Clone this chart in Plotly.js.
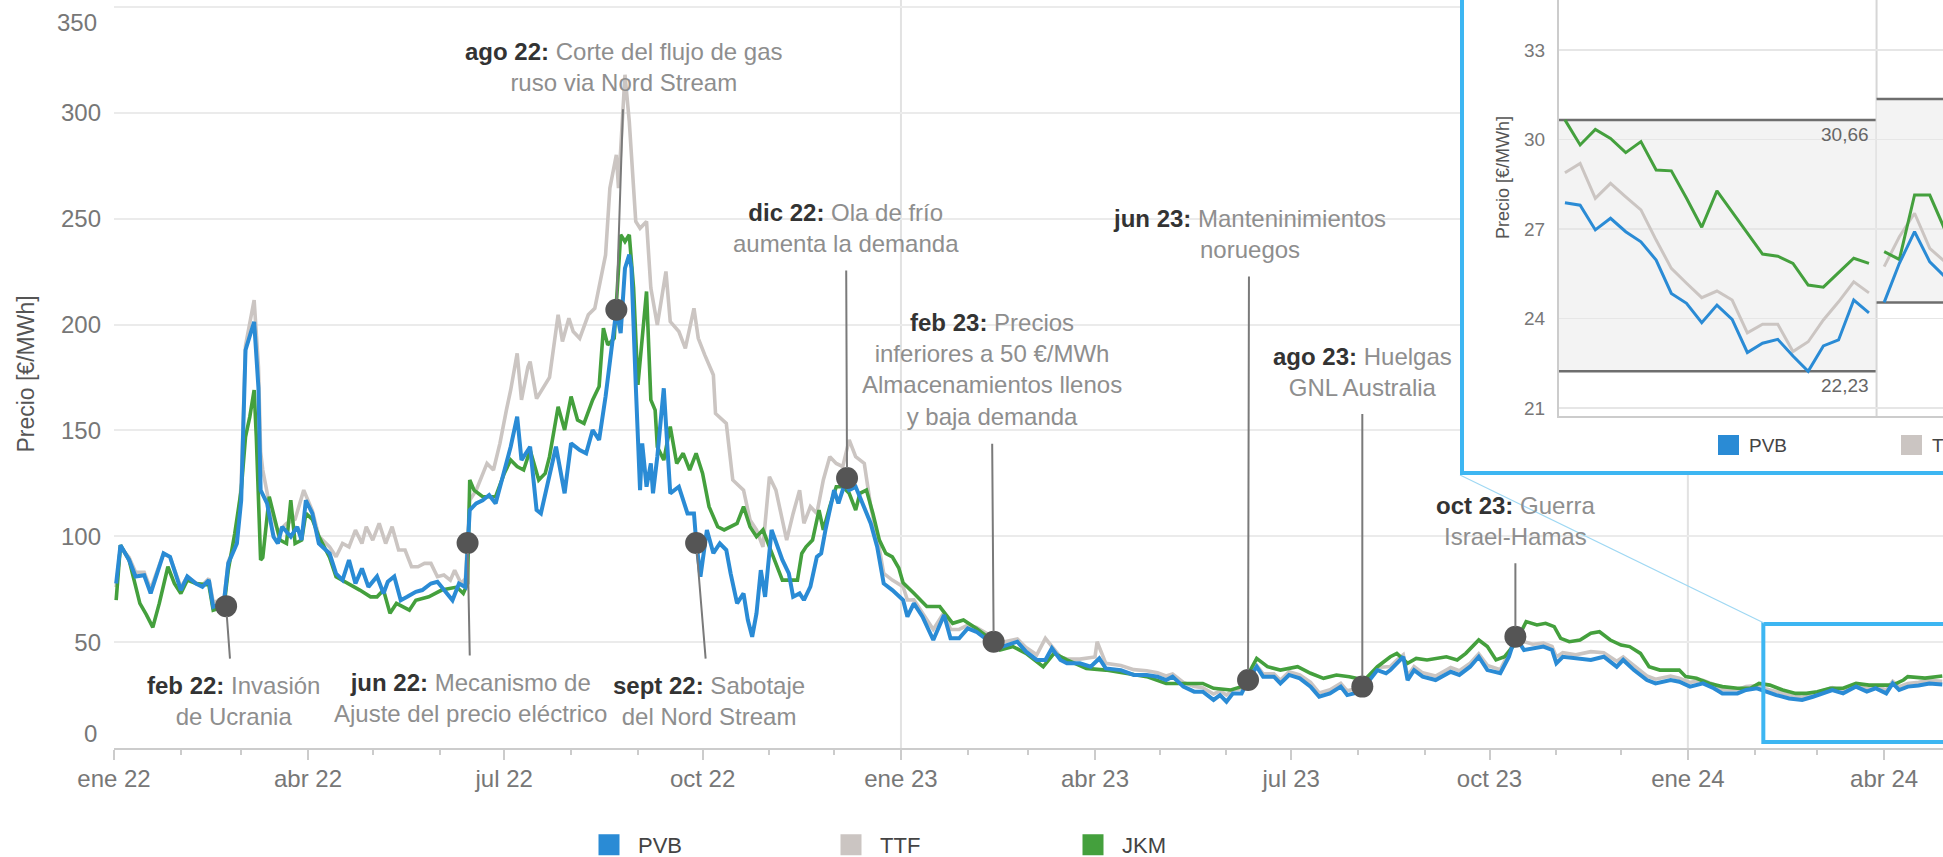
<!DOCTYPE html>
<html>
<head>
<meta charset="utf-8">
<script src="https://cdn.plot.ly/plotly-3.0.1.min.js"></script>
<style>
html,body{margin:0;padding:0;background:#fff;overflow:hidden}
#chart{width:1943px;height:857px}
</style>
</head>
<body>
<div id="chart"></div>
<script>
// ---------------- DATA ----------------
const seriesNames = ['PVB', 'TTF', 'JKM'];

const pvbDates = ['2022-01-02','2022-01-04','2022-01-08','2022-01-11','2022-01-15','2022-01-18','2022-01-24','2022-01-27','2022-02-01','2022-02-04','2022-02-08','2022-02-11','2022-02-14','2022-02-16','2022-02-21','2022-02-23','2022-02-27','2022-03-01','2022-03-03','2022-03-06','2022-03-07','2022-03-09','2022-03-10','2022-03-13','2022-03-16','2022-03-18','2022-03-20','2022-03-24','2022-03-27','2022-03-29','2022-03-31','2022-04-03','2022-04-06','2022-04-11','2022-04-14','2022-04-17','2022-04-20','2022-04-23','2022-04-26','2022-04-29','2022-05-03','2022-05-06','2022-05-08','2022-05-11','2022-05-14','2022-05-17','2022-05-21','2022-05-24','2022-05-28','2022-05-31','2022-06-03','2022-06-07','2022-06-10','2022-06-13','2022-06-15','2022-06-18','2022-06-21','2022-06-24','2022-06-27','2022-06-30','2022-07-04','2022-07-07','2022-07-09','2022-07-13','2022-07-16','2022-07-18','2022-07-22','2022-07-25','2022-07-29','2022-08-01','2022-08-05','2022-08-08','2022-08-11','2022-08-14','2022-08-17','2022-08-21','2022-08-22','2022-08-24','2022-08-26','2022-08-28','2022-08-29','2022-08-31','2022-09-02','2022-09-03','2022-09-05','2022-09-07','2022-09-08','2022-09-10','2022-09-13','2022-09-16','2022-09-20','2022-09-24','2022-09-27','2022-09-28','2022-09-30','2022-10-03','2022-10-06','2022-10-09','2022-10-12','2022-10-14','2022-10-17','2022-10-20','2022-10-22','2022-10-24','2022-10-26','2022-10-28','2022-10-30','2022-11-02','2022-11-05','2022-11-07','2022-11-10','2022-11-12','2022-11-15','2022-11-17','2022-11-20','2022-11-23','2022-11-25','2022-11-27','2022-12-01','2022-12-03','2022-12-06','2022-12-08','2022-12-11','2022-12-14','2022-12-18','2022-12-21','2022-12-24','2022-12-28','2023-01-02','2023-01-04','2023-01-07','2023-01-11','2023-01-16','2023-01-21','2023-01-24','2023-01-28','2023-02-01','2023-02-05','2023-02-10','2023-02-13','2023-02-17','2023-02-24','2023-02-28','2023-03-05','2023-03-09','2023-03-12','2023-03-16','2023-03-19','2023-03-25','2023-03-30','2023-04-03','2023-04-06','2023-04-13','2023-04-19','2023-04-25','2023-04-30','2023-05-04','2023-05-07','2023-05-12','2023-05-17','2023-05-21','2023-05-26','2023-05-29','2023-06-01','2023-06-04','2023-06-08','2023-06-11','2023-06-15','2023-06-18','2023-06-23','2023-06-26','2023-06-30','2023-07-05','2023-07-10','2023-07-14','2023-07-19','2023-07-24','2023-07-27','2023-07-31','2023-08-04','2023-08-10','2023-08-14','2023-08-16','2023-08-19','2023-08-22','2023-08-24','2023-08-27','2023-08-31','2023-09-06','2023-09-13','2023-09-17','2023-09-22','2023-09-26','2023-09-30','2023-10-06','2023-10-10','2023-10-13','2023-10-17','2023-10-21','2023-10-26','2023-10-30','2023-11-01','2023-11-04','2023-11-10','2023-11-17','2023-11-23','2023-11-29','2023-12-02','2023-12-07','2023-12-13','2023-12-17','2023-12-24','2023-12-28','2024-01-02','2024-01-08','2024-01-13','2024-01-17','2024-01-24','2024-01-28','2024-02-02','2024-02-06','2024-02-11','2024-02-17','2024-02-23','2024-02-28','2024-03-04','2024-03-08','2024-03-13','2024-03-19','2024-03-24','2024-03-28','2024-04-02','2024-04-05','2024-04-08','2024-04-12','2024-04-17','2024-04-22','2024-04-28'];
const pvbValues = [77.7,95.8,88.8,81,81.6,73,91.9,90.3,74.6,81,77.7,76.1,79.3,66.7,69,87.2,96.6,117,188,197.4,201.3,170,121.8,115.5,99.8,96.6,104.5,99.8,104.5,98.2,117,110.8,96.6,91.9,82.4,79.3,88.8,77.7,84.8,76.1,81,73,78.5,81,69.8,71.4,73.8,74.6,77.7,78.5,74.6,69.8,77.7,76,112.4,115.5,117,119.5,115.5,126.6,142.3,156.5,136,142.3,112.4,110.8,128.1,142.3,120.3,143.9,140.7,139.2,150.2,145.5,166,201.4,206.9,196,226.6,233,226.6,171.5,121.8,143.9,123.4,134.4,120.3,137.6,169.9,120.3,123.4,110.8,110.8,98,80.9,103,92,96.6,93.5,82.5,68.3,73,60.4,52.5,63.6,84,71.4,103,95,88.8,82.5,71.4,73,69.9,76.2,90.3,91.9,103,121.8,115.5,125,121.8,123.4,115.5,106.1,95,77.7,74.6,69.9,62,68.3,62,51,62.8,51.8,51.8,56.5,54.9,51,50.2,47.9,50.2,45.5,41.6,41.6,47.1,41.6,40,40,38.4,42.3,37.6,36.8,34.5,34.5,33.7,32.1,33.7,29,26.6,26.6,22.7,25,21.9,25.8,25.8,32.1,38.4,33.7,33.7,30.5,34.5,32.9,29,24.2,25.8,29,25,26,29,36.8,35.3,36.8,40,43.1,32.1,36.8,33.7,32.1,36,34.5,38.4,43.1,36.8,35.3,43.1,52.6,46.3,47.1,47.9,46.3,40,43.1,42.3,41.6,43.1,38.4,41.6,36.8,32.1,30.5,32.1,31.3,29,30.5,28.2,25.8,25.8,27.4,28.2,26.6,25,23.4,22.7,24.2,25.8,27.4,25.8,29,26.6,28.2,25.8,30.5,27.4,29,29.5,30.5,30];

const ttfDates = ['2022-01-02','2022-01-04','2022-01-08','2022-01-11','2022-01-15','2022-01-18','2022-01-24','2022-01-27','2022-02-01','2022-02-04','2022-02-08','2022-02-11','2022-02-14','2022-02-16','2022-02-21','2022-02-23','2022-02-27','2022-03-01','2022-03-03','2022-03-06','2022-03-07','2022-03-09','2022-03-10','2022-03-11','2022-03-14','2022-03-18','2022-03-22','2022-03-26','2022-03-30','2022-04-03','2022-04-06','2022-04-11','2022-04-14','2022-04-17','2022-04-20','2022-04-23','2022-04-26','2022-04-28','2022-05-01','2022-05-04','2022-05-07','2022-05-10','2022-05-13','2022-05-16','2022-05-19','2022-05-22','2022-05-25','2022-05-28','2022-05-31','2022-06-03','2022-06-06','2022-06-08','2022-06-11','2022-06-13','2022-06-15','2022-06-18','2022-06-23','2022-06-26','2022-06-29','2022-07-02','2022-07-04','2022-07-07','2022-07-09','2022-07-12','2022-07-13','2022-07-16','2022-07-19','2022-07-22','2022-07-26','2022-07-28','2022-07-31','2022-08-02','2022-08-05','2022-08-09','2022-08-12','2022-08-15','2022-08-17','2022-08-19','2022-08-22','2022-08-23','2022-08-25','2022-08-26','2022-08-28','2022-08-30','2022-08-31','2022-09-02','2022-09-05','2022-09-07','2022-09-10','2022-09-14','2022-09-16','2022-09-20','2022-09-23','2022-09-27','2022-09-29','2022-10-02','2022-10-06','2022-10-07','2022-10-12','2022-10-15','2022-10-20','2022-10-23','2022-10-26','2022-10-29','2022-11-01','2022-11-04','2022-11-07','2022-11-09','2022-11-12','2022-11-15','2022-11-17','2022-11-20','2022-11-23','2022-11-26','2022-11-29','2022-12-02','2022-12-05','2022-12-08','2022-12-11','2022-12-15','2022-12-18','2022-12-21','2022-12-24','2022-12-28','2023-01-02','2023-01-04','2023-01-07','2023-01-11','2023-01-16','2023-01-21','2023-01-24','2023-01-28','2023-02-01','2023-02-05','2023-02-10','2023-02-13','2023-02-17','2023-02-24','2023-02-28','2023-03-05','2023-03-09','2023-03-12','2023-03-16','2023-03-19','2023-03-25','2023-04-01','2023-04-02','2023-04-06','2023-04-13','2023-04-19','2023-04-25','2023-04-30','2023-05-04','2023-05-07','2023-05-12','2023-05-17','2023-05-21','2023-05-26','2023-05-29','2023-06-01','2023-06-04','2023-06-08','2023-06-11','2023-06-15','2023-06-18','2023-06-23','2023-06-26','2023-06-30','2023-07-05','2023-07-10','2023-07-14','2023-07-19','2023-07-24','2023-07-27','2023-07-31','2023-08-04','2023-08-10','2023-08-16','2023-08-19','2023-08-22','2023-08-24','2023-08-27','2023-08-31','2023-09-06','2023-09-13','2023-09-17','2023-09-22','2023-09-26','2023-09-30','2023-10-06','2023-10-10','2023-10-13','2023-10-17','2023-10-21','2023-10-26','2023-10-30','2023-11-01','2023-11-04','2023-11-10','2023-11-17','2023-11-23','2023-11-29','2023-12-02','2023-12-07','2023-12-13','2023-12-17','2023-12-24','2023-12-28','2024-01-02','2024-01-08','2024-01-13','2024-01-17','2024-01-24','2024-01-28','2024-02-02','2024-02-06','2024-02-11','2024-02-17','2024-02-23','2024-02-28','2024-03-04','2024-03-08','2024-03-13','2024-03-19','2024-03-24','2024-03-28','2024-04-02','2024-04-05','2024-04-08','2024-04-12','2024-04-17','2024-04-22','2024-04-28'];
const ttfValues = [76,95,90,83,83,75,92,90,76,81,78,77,80,69,70,88,98,125,190,205,211.6,180,140,131.3,115.5,102,106,108,121.8,112,100,95,90.3,96.6,95,102.9,96.6,104.5,98.2,106.1,96.6,104.5,93.5,93.5,85.6,85.6,87.2,87.2,80.9,81.7,79.3,84,77.7,80,117,121.8,134.4,131.3,143.9,159.6,169.1,186.4,164.4,180.1,182.5,165,170,175,204.6,192,203,196.7,193.5,204.6,207.7,223.5,232.9,264.4,280.2,264.4,303.8,318,295.9,260,248.7,245.5,248.7,217.2,199.8,225.1,201.4,196.7,188.8,207.7,193.5,185.7,176.2,158,153.3,126.6,121.8,107.7,103,95,128.1,121.8,107.7,98.2,110.8,121.8,106.1,114,110.8,126.6,137.6,134.4,132.9,145.5,137.6,134.4,114,99.8,82.5,79.3,76.2,69.9,70,64,56,64,56,56,58,57,54,51,50,51.5,47.5,44,51.8,48,43,42,42,43,50.2,40,39,37,36.5,35.5,34,35,31,29,28.5,25.5,27,25,27.5,28,33,39,35,35,32,36,34.5,31,26,27.5,30.5,27,28,30.5,38,38.5,41.5,44,34,38.5,35.5,34,38,36.5,40,44.5,39,37,45,52,50.2,49,49.5,48,43,45,44,45.5,45,41,43,39,34,32.5,34,33,31,32,30,27.5,27.5,29,29.5,28,26.5,25,24,25.5,27,28.5,27,30,28,29,27.5,31.5,29,30.5,31,32,31.5];

const jkmDates = ['2022-01-02','2022-01-04','2022-01-08','2022-01-13','2022-01-16','2022-01-19','2022-01-22','2022-01-26','2022-01-29','2022-02-01','2022-02-04','2022-02-08','2022-02-14','2022-02-16','2022-02-21','2022-02-23','2022-02-26','2022-03-01','2022-03-03','2022-03-05','2022-03-07','2022-03-08','2022-03-10','2022-03-11','2022-03-14','2022-03-16','2022-03-19','2022-03-22','2022-03-24','2022-03-26','2022-03-29','2022-03-31','2022-04-03','2022-04-06','2022-04-11','2022-04-14','2022-04-20','2022-04-25','2022-04-30','2022-05-03','2022-05-06','2022-05-09','2022-05-12','2022-05-15','2022-05-18','2022-05-21','2022-05-27','2022-06-02','2022-06-09','2022-06-12','2022-06-14','2022-06-15','2022-06-17','2022-06-21','2022-06-27','2022-07-01','2022-07-04','2022-07-07','2022-07-10','2022-07-13','2022-07-17','2022-07-20','2022-07-22','2022-07-26','2022-07-29','2022-08-01','2022-08-04','2022-08-07','2022-08-11','2022-08-14','2022-08-16','2022-08-18','2022-08-21','2022-08-24','2022-08-26','2022-08-28','2022-08-30','2022-09-01','2022-09-05','2022-09-07','2022-09-09','2022-09-10','2022-09-13','2022-09-16','2022-09-19','2022-09-22','2022-09-25','2022-09-28','2022-10-01','2022-10-04','2022-10-08','2022-10-11','2022-10-14','2022-10-17','2022-10-20','2022-10-23','2022-10-26','2022-10-29','2022-11-01','2022-11-04','2022-11-07','2022-11-10','2022-11-14','2022-11-16','2022-11-18','2022-11-21','2022-11-24','2022-11-26','2022-11-29','2022-12-02','2022-12-05','2022-12-08','2022-12-11','2022-12-13','2022-12-16','2022-12-19','2022-12-22','2022-12-25','2022-12-28','2022-12-31','2023-01-02','2023-01-07','2023-01-13','2023-01-19','2023-01-25','2023-01-30','2023-02-05','2023-02-10','2023-02-16','2023-02-22','2023-02-28','2023-03-08','2023-03-13','2023-03-19','2023-03-28','2023-04-06','2023-04-16','2023-04-25','2023-05-04','2023-05-14','2023-05-21','2023-05-26','2023-06-03','2023-06-08','2023-06-15','2023-06-20','2023-06-26','2023-07-04','2023-07-10','2023-07-16','2023-07-22','2023-07-28','2023-08-04','2023-08-10','2023-08-16','2023-08-19','2023-08-24','2023-08-28','2023-09-02','2023-09-11','2023-09-16','2023-09-20','2023-09-26','2023-09-30','2023-10-04','2023-10-08','2023-10-13','2023-10-18','2023-10-23','2023-10-27','2023-10-31','2023-11-03','2023-11-07','2023-11-12','2023-11-17','2023-11-21','2023-11-26','2023-12-01','2023-12-05','2023-12-10','2023-12-14','2023-12-19','2023-12-28','2023-12-31','2024-01-05','2024-01-11','2024-01-17','2024-01-24','2024-01-30','2024-02-03','2024-02-08','2024-02-14','2024-02-20','2024-02-25','2024-03-01','2024-03-07','2024-03-13','2024-03-19','2024-03-25','2024-04-01','2024-04-05','2024-04-10','2024-04-12','2024-04-20','2024-04-28'];
const jkmValues = [69.8,95.8,88.8,68.3,63,57,68.3,85.6,77.7,73,79.3,77.7,77,65.1,66.7,84,101.3,121.8,147,156.5,169.1,147,88.8,90,118.7,110.8,98.2,96.6,117,96.6,98.2,110.8,108,100,90,80.9,77.7,74.6,71.4,71.4,74.6,63.6,68.3,66.7,65.1,69.8,71.4,74.6,76,73,77.7,126.6,121.8,118.7,118.7,129.7,136,132.9,131.3,140.7,126.6,129.7,137.6,161.2,150.2,166,154.9,153.3,164.4,170.7,198.3,190.4,193.5,242.4,239.2,242.4,217.2,171.5,215.6,164.4,159.6,142.3,136,151.8,134.4,139.2,131.3,139.2,129.7,114,104.5,103,104.5,106.1,114,104.5,99.8,103,95,87.2,79.3,79.3,79.3,91.9,95,98.2,112.4,103,114,123.4,123.4,120.3,112.4,120.3,121.8,110.8,98.2,91.9,90.3,85,78,73.1,66.8,66.8,58.9,60.5,56.5,52.6,46.3,47.9,44.7,38.4,44.7,41.6,37.6,36.8,35.3,33.7,30.5,30.5,30.5,28.2,27.4,29,42.3,38.4,36.8,38.4,35.3,32.9,34.5,33.7,32.1,38.4,43.1,44.7,40,42.3,41.6,43.1,41.6,44.7,51,47.9,41.6,43.1,49.4,59.7,58.1,58.9,57.3,51.8,50.2,51,54.2,54.9,51,48.6,47.9,44.7,38.4,36.8,36.8,33.7,32.9,30.5,29,28.2,28.2,30.5,29.7,27.4,25.8,25.8,26.6,28.2,28.2,30.5,29.7,29.7,29.7,32.1,33.7,33,34];

// Eventos anotados
const eventDates = ['2022-02-22','2022-06-14','2022-08-22','2022-09-28','2022-12-07','2023-02-13','2023-06-11','2023-08-03','2023-10-13'];
const eventValues = [67, 96.8, 207, 96.8, 127.5, 50.2, 32.1, 29, 52.6];
const eventTags = ['feb 22:','jun 22:','ago 22:','sept 22:','dic 22:','feb 23:','jun 23:','ago 23:','oct 23:'];
const eventTexts = [
  'Invasión<br>de Ucrania',
  'Mecanismo de<br>Ajuste del precio eléctrico',
  'Corte del flujo de gas<br>ruso via Nord Stream',
  'Sabotaje<br>del Nord Stream',
  'Ola de frío<br>aumenta la demanda',
  'Precios<br>inferiores a 50 €/MWh<br>Almacenamientos llenos<br>y baja demanda',
  'Manteninimientos<br>noruegos',
  'Huelgas<br>GNL Australia',
  'Guerra<br>Israel-Hamas'
];

// Ejes
const xTickDates = ['2022-01-01','2022-04-01','2022-07-01','2022-10-01','2023-01-01','2023-04-01','2023-07-01','2023-10-01','2024-01-01','2024-04-01'];
const xTickLabels = ['ene 22','abr 22','jul 22','oct 22','ene 23','abr 23','jul 23','oct 23','ene 24','abr 24'];
const yTickValues = [0, 50, 100, 150, 200, 250, 300, 350];
const yearStarts = ['2023-01-01', '2024-01-01'];

// Detalle (zoom) feb-mar 2024, días hábiles
const insetDates = ['2024-02-01','2024-02-02','2024-02-05','2024-02-06','2024-02-07','2024-02-08','2024-02-09','2024-02-12','2024-02-13','2024-02-14','2024-02-15','2024-02-16','2024-02-19','2024-02-20','2024-02-21','2024-02-22','2024-02-23','2024-02-26','2024-02-27','2024-02-28','2024-02-29','2024-03-01','2024-03-04','2024-03-05','2024-03-06','2024-03-07'];
const insetPvb = [27.88,27.80,26.97,27.36,26.91,26.57,25.96,24.84,24.51,23.86,24.45,23.97,22.86,23.17,23.30,22.74,22.23,23.08,23.28,24.62,24.19,24.54,25.85,26.91,25.90,25.40];
const insetTtf = [28.89,29.20,28.03,28.53,28.08,27.64,26.63,25.68,25.18,24.70,24.92,24.62,23.52,23.81,23.81,22.89,23.22,23.95,24.56,25.23,24.86,25.74,26.74,27.53,26.35,25.90];
const insetJkm = [30.66,29.82,30.34,30.04,29.56,29.93,28.98,28.95,28.03,27.06,28.28,27.58,26.85,26.16,26.09,25.85,25.12,25.05,25.54,26.02,25.85,26.24,25.98,28.14,28.14,26.97];
const bandMonths = ['2024-02', '2024-03'];
const bandMax = [30.66, 31.36];
const bandMin = [22.23, 24.54];
const insetTickValues = [21, 24, 27, 30, 33];

// ---------------- STYLE ----------------
const COLORS = {PVB: '#2a8bd5', TTF: '#cbc5c2', JKM: '#44a03d'};
const FONT = 'Liberation Sans, Arial, sans-serif';
const W = 1943, H = 857;
const M = {l: 114, r: 0, t: 0, b: 109};
const PW = W - M.l - M.r, PH = H - M.t - M.b;
const px2x = px => (px - M.l) / PW;         // pixel -> paper x
const px2y = py => (H - M.b - py) / PH;      // pixel -> paper y
const BORDER = '#3db6f2';

const mainRange = ['2022-01-01', '2024-04-28 08:00'];
const yRange = [0, 353.3];
const insetYRange = [20.73, 34.68];
const insetXRange = [-0.39, 24.87];
const labelOffsets = [[7,95],[3,155],[8,-243],[13,158],[-1,-250],[-2,-272],[1,-446],[0,-315],[0,-116]];

// ---------------- TRACES ----------------
const traces = [];
const mainSeries = {PVB: [pvbDates, pvbValues], TTF: [ttfDates, ttfValues], JKM: [jkmDates, jkmValues]};
['TTF', 'JKM', 'PVB'].forEach(n => {
  traces.push({
    type: 'scatter', mode: 'lines', name: n, x: mainSeries[n][0], y: mainSeries[n][1],
    line: {color: COLORS[n], width: n === 'PVB' ? 4 : 3.6, shape: 'linear'},
    showlegend: false, hoverinfo: 'skip', xaxis: 'x', yaxis: 'y'
  });
});
traces.push({
  type: 'scatter', mode: 'markers', x: eventDates, y: eventValues,
  marker: {size: 22, color: '#555555'}, showlegend: false, hoverinfo: 'skip'
});
seriesNames.forEach(n => {
  traces.push({
    type: 'scatter', mode: 'markers', name: n, x: [null], y: [null],
    marker: {symbol: 'square', size: 16, color: COLORS[n], line: {color: COLORS[n], width: 5}},
    showlegend: true, hoverinfo: 'skip'
  });
});
// helper on the background subplot of the detail box (keeps layer order)
traces.push({type: 'scatter', mode: 'markers', x: [-1], y: [-1], xaxis: 'x2', yaxis: 'y2',
  marker: {opacity: 0}, showlegend: false, hoverinfo: 'skip'});

const insetSeries = {TTF: insetTtf, JKM: insetJkm, PVB: insetPvb};
bandMonths.forEach(m => {
  const idx = insetDates.map((d, i) => d.startsWith(m) ? i : -1).filter(i => i >= 0);
  ['TTF', 'JKM', 'PVB'].forEach(n => {
    traces.push({
      type: 'scatter', mode: 'lines', x: idx.map(i => insetDates[i]), y: idx.map(i => insetSeries[n][i]),
      line: {color: COLORS[n], width: 3}, showlegend: false, hoverinfo: 'skip', xaxis: 'x3', yaxis: 'y3'
    });
  });
});

// ---------------- SHAPES ----------------
const shapes = [];
yearStarts.forEach(d => shapes.push({type: 'line', xref: 'x', yref: 'paper', x0: d, x1: d, y0: 0, y1: 1,
  line: {color: '#e2e2e2', width: 2}, layer: 'below'}));
// white background of the detail box (drawn on its own subplot, above the main chart)
shapes.push({type: 'rect', xref: 'x2', yref: 'y2', x0: 0, x1: 1, y0: 0, y1: 1, fillcolor: '#ffffff', line: {width: 0}, layer: 'below'});
// monthly bands in the detail
bandMonths.forEach((m, k) => {
  const idx = insetDates.map((d, i) => d.startsWith(m) ? i : -1).filter(i => i >= 0);
  const x0 = idx[0] - 0.5, x1 = idx[idx.length - 1] + 0.5;
  shapes.push({type: 'rect', xref: 'x3', yref: 'y3', x0: x0, x1: x1, y0: bandMin[k], y1: bandMax[k],
    fillcolor: '#f3f3f3', line: {width: 0}, layer: 'below'});
  [bandMax[k], bandMin[k]].forEach(v => shapes.push({type: 'line', xref: 'x3', yref: 'y3', x0: x0, x1: x1, y0: v, y1: v,
    line: {color: '#6e6e6e', width: 2.5}, layer: 'below'}));
  if (k < bandMonths.length - 1) {
    shapes.push({type: 'line', xref: 'x3', yref: 'y3', x0: x1, x1: x1, y0: insetYRange[0], y1: insetYRange[1],
      line: {color: '#d6d6d6', width: 2}, layer: 'below'});
  }
});
// zoom window on the main chart
shapes.push({type: 'rect', xref: 'x', yref: 'y', x0: '2024-02-05', x1: '2024-07-01', y0: 2.8, y1: 58.6,
  line: {color: BORDER, width: 4}, fillcolor: 'rgba(0,0,0,0)', layer: 'above'});
// connector
shapes.push({type: 'line', xref: 'paper', yref: 'paper', x0: px2x(1460), y0: px2y(475), x1: px2x(1764), y1: px2y(623),
  line: {color: '#9fd8f3', width: 1.2}, layer: 'above'});
// border of the detail box
shapes.push({type: 'rect', xref: 'paper', yref: 'paper', x0: px2x(1462), y0: px2y(473), x1: 1.03, y1: 1.03,
  line: {color: BORDER, width: 4}, fillcolor: 'rgba(0,0,0,0)', layer: 'above'});
// legend keys of the detail box
[['PVB', 1718], ['TTF', 1901]].forEach(([n, px]) => shapes.push({type: 'rect', xref: 'paper', yref: 'paper',
  x0: px2x(px), x1: px2x(px + 21), y0: px2y(455), y1: px2y(435), fillcolor: COLORS[n], line: {width: 0}, layer: 'above'}));

// ---------------- ANNOTATIONS ----------------
const annotations = [];
eventDates.forEach((d, i) => {
  annotations.push({
    x: d, y: eventValues[i], xref: 'x', yref: 'y',
    text: '<span style="color:#333333"><b>' + eventTags[i] + '</b></span> ' + eventTexts[i],
    showarrow: true, arrowhead: 0, arrowwidth: 2, arrowcolor: '#7a7a7a',
    ax: labelOffsets[i][0], ay: labelOffsets[i][1], standoff: 10, startstandoff: 12,
    font: {family: FONT, size: 24, color: '#8e8e8e'}, align: 'center'
  });
});
// first & last y labels sit inside the plot edges
[[yTickValues[0], 15], [yTickValues[yTickValues.length - 1], -16]].forEach(([v, s]) => annotations.push({
  xref: 'paper', yref: 'y', x: 0, y: v, xanchor: 'right', yanchor: 'middle', xshift: -15, yshift: s,
  text: String(v), showarrow: false, font: {family: FONT, size: 24, color: '#777777'}
}));
// band labels (only for fully visible months)
bandMonths.forEach((m, k) => {
  const idx = insetDates.map((d, i) => d.startsWith(m) ? i : -1).filter(i => i >= 0);
  const xe = idx[idx.length - 1] + 0.5;
  if (xe < insetXRange[1]) {
    [bandMax[k], bandMin[k]].forEach(v => annotations.push({
      xref: 'x3', yref: 'y3', x: xe, y: v, xanchor: 'right', yanchor: 'top', xshift: -6, yshift: -2,
      text: v.toFixed(2).replace('.', ','), showarrow: false, font: {family: FONT, size: 19, color: '#666666'}
    }));
  }
});
// detail y title and legend labels
annotations.push({xref: 'paper', yref: 'paper', x: px2x(1503), y: px2y(178), xanchor: 'center', yanchor: 'middle', textangle: -90,
  text: 'Precio [€/MWh]', showarrow: false, font: {family: FONT, size: 18, color: '#555555'}});
[['PVB', 1747], ['TTF', 1930]].forEach(([n, px]) => annotations.push({xref: 'paper', yref: 'paper',
  x: px2x(px), y: px2y(445), xanchor: 'left', yanchor: 'middle', text: n, showarrow: false,
  font: {family: FONT, size: 19, color: '#444444'}}));

// ---------------- LAYOUT ----------------
const layout = {
  width: W, height: H,
  margin: {l: M.l, r: M.r, t: M.t, b: M.b, autoexpand: false},
  paper_bgcolor: '#ffffff', plot_bgcolor: '#ffffff',
  font: {family: FONT},
  showlegend: true, hovermode: false,
  legend: {orientation: 'h', x: px2x(580), xanchor: 'left', y: px2y(845), yanchor: 'middle',
    itemwidth: 48, entrywidth: 179, entrywidthmode: 'pixels', font: {family: FONT, size: 22, color: '#444444'},
    bgcolor: 'rgba(0,0,0,0)', itemclick: false},
  xaxis: {
    type: 'date', range: mainRange, domain: [0, 1], anchor: 'y',
    tickmode: 'array', tickvals: xTickDates, ticktext: xTickLabels,
    ticks: 'outside', ticklen: 10, tickwidth: 2, tickcolor: '#cccccc',
    minor: {dtick: 'M1', tick0: '2022-01-01', ticks: 'outside', ticklen: 5, tickwidth: 2, tickcolor: '#cccccc', showgrid: false},
    showline: true, linecolor: '#cccccc', linewidth: 2, showgrid: false, zeroline: false,
    tickfont: {family: FONT, size: 24, color: '#777777'}, ticklabelstandoff: -2, automargin: false
  },
  yaxis: {
    range: yRange, domain: [0, 1], anchor: 'x',
    tickmode: 'array', tickvals: yTickValues,
    ticktext: yTickValues.map((v, i) => (i === 0 || i === yTickValues.length - 1) ? '' : String(v)),
    ticks: '', showline: false, zeroline: false,
    showgrid: true, gridcolor: '#ebebeb', gridwidth: 2,
    tickfont: {family: FONT, size: 24, color: '#777777'}, ticklabelstandoff: 12,
    title: {text: 'Precio [€/MWh]', font: {family: FONT, size: 23, color: '#555555'}, standoff: 19},
    automargin: false
  },
  xaxis2: {domain: [px2x(1460), 1], range: [0, 1], anchor: 'y2', visible: false, fixedrange: true},
  yaxis2: {domain: [px2y(475), 1], range: [0, 1], anchor: 'x2', visible: false, fixedrange: true},
  xaxis3: {
    domain: [px2x(1559), 1], anchor: 'y3', type: 'category', categoryorder: 'array', categoryarray: insetDates,
    range: insetXRange, showticklabels: false, ticks: '', showgrid: false, zeroline: false,
    showline: true, linecolor: '#cccccc', linewidth: 2
  },
  yaxis3: {
    domain: [px2y(416), 1], anchor: 'x3', range: insetYRange,
    tickmode: 'array', tickvals: insetTickValues, ticks: '',
    showgrid: true, gridcolor: '#e6e6e6', gridwidth: 1.5, zeroline: false,
    showline: true, linecolor: '#cccccc', linewidth: 2,
    tickfont: {family: FONT, size: 19, color: '#777777'}, ticklabelstandoff: 8
  },
  shapes: shapes,
  annotations: annotations
};

Plotly.newPlot('chart', traces, layout, {staticPlot: true, displayModeBar: false});
</script>
</body>
</html>
